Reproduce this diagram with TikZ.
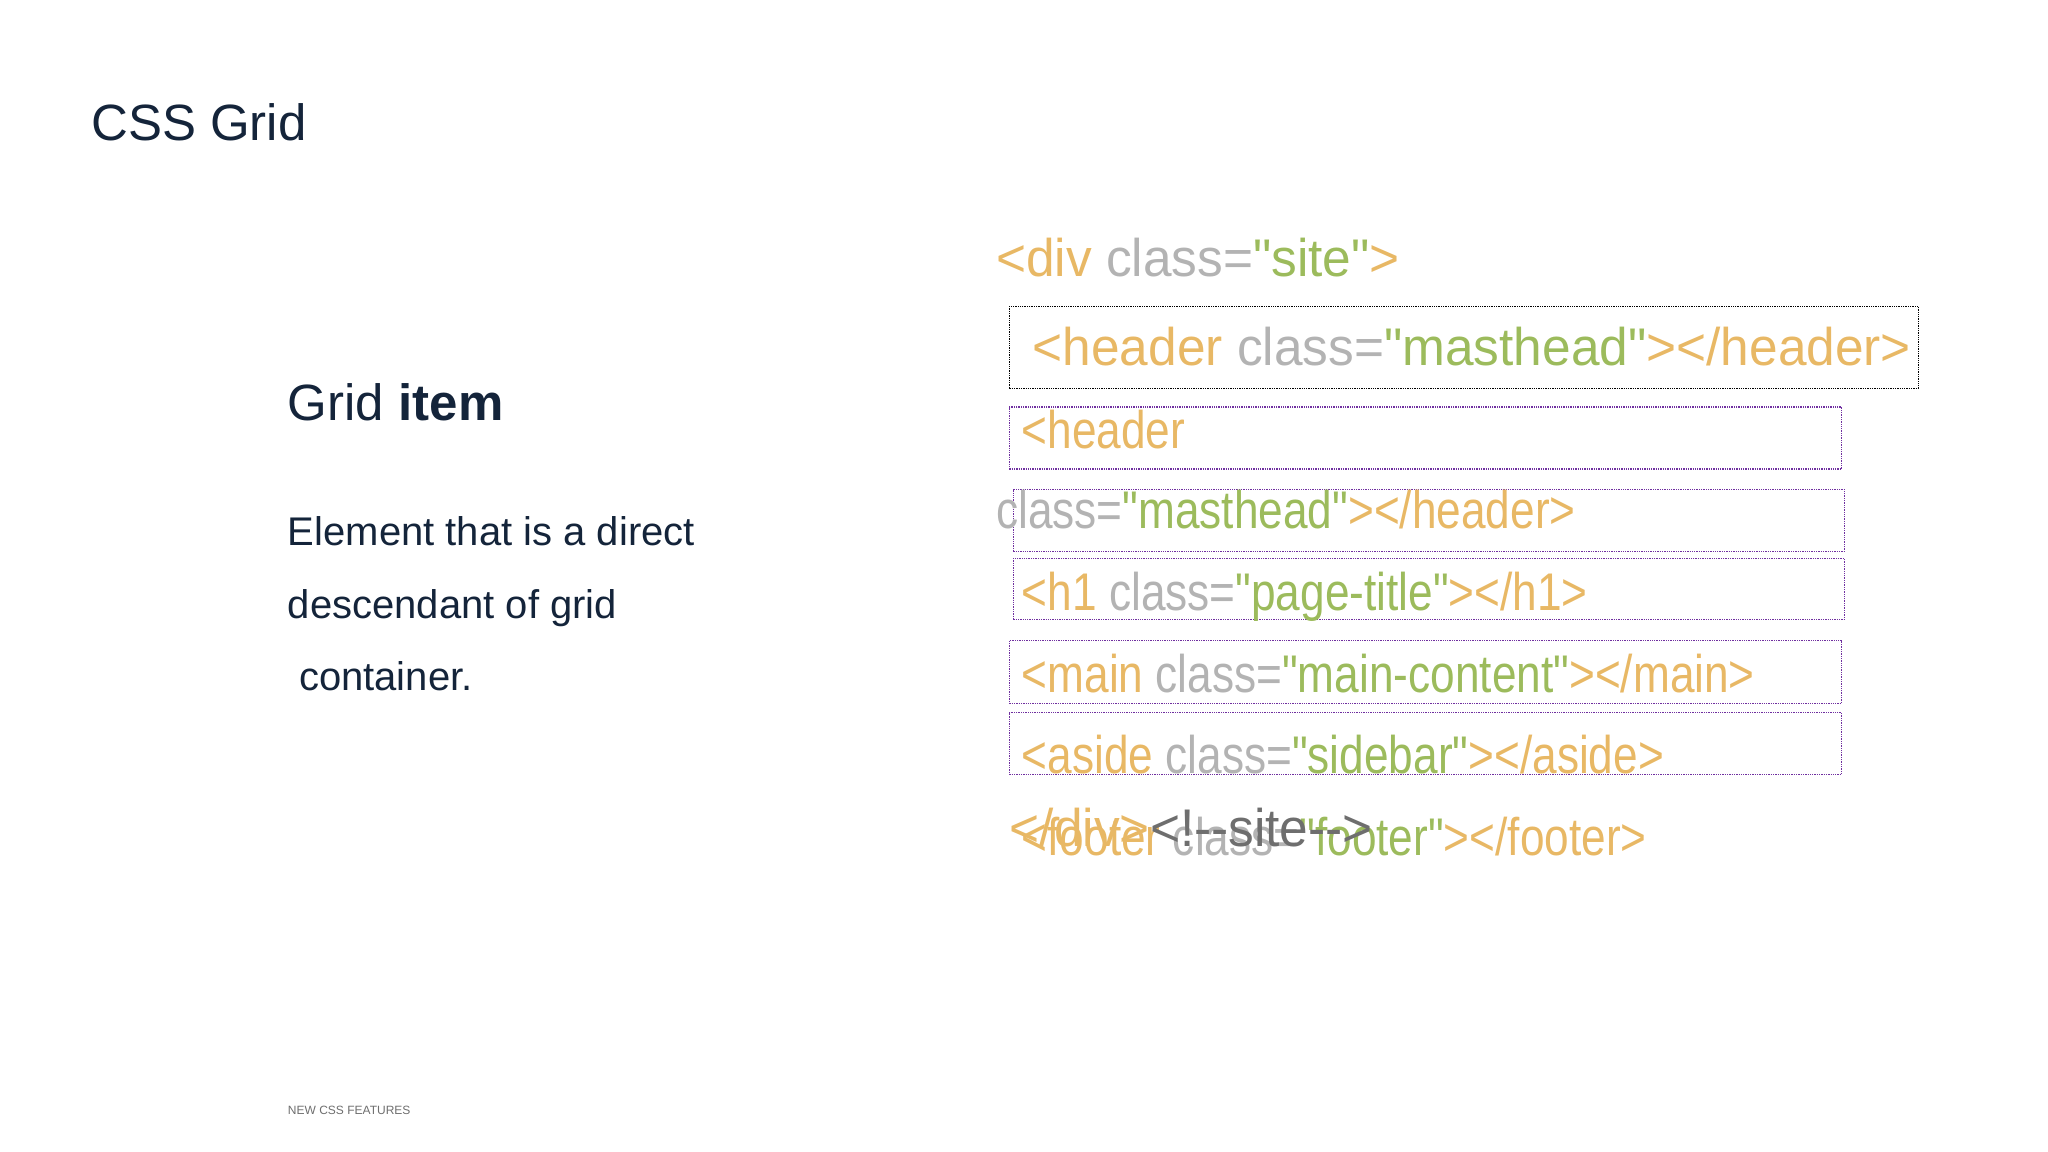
\documentclass[tikz,border=0pt]{standalone}
\usepackage{fontspec}
\setmainfont{Liberation Sans}
\newfontfamily\codefont{Liberation Sans}
\definecolor{navy}{HTML}{14243A}
\definecolor{tagc}{HTML}{E8B865}
\definecolor{attc}{HTML}{B3B3B3}
\definecolor{valc}{HTML}{9CBB5C}
\definecolor{cmtc}{HTML}{6E6E6E}
\definecolor{boxp}{HTML}{7030A0}
\newcommand{\tg}[1]{\textcolor{tagc}{#1}}
\newcommand{\at}[1]{\textcolor{attc}{#1}}
\newcommand{\vl}[1]{\textcolor{valc}{#1}}
\begin{document}
\begin{tikzpicture}[x=0.989pt,y=-0.989pt,
  code/.style={anchor=base west,inner sep=0,font=\codefont\fontsize{53}{60}\selectfont,xscale=0.97},
  codes/.style={code,xscale=0.86},
  box/.style={draw=boxp,densely dotted,line width=1.3pt,anchor=north west,inner sep=0},
  bbox/.style={draw=black,densely dotted,line width=1.3pt,anchor=north west,inner sep=0},
  body/.style={anchor=base west,inner sep=0,text=navy,font=\fontsize{40}{44}\selectfont}]
\useasboundingbox (0,0) rectangle (2070.8,1164.8);
\node[anchor=base west,inner sep=0,text=navy,font=\fontsize{51}{60}\selectfont] (title) at (92,142) {CSS Grid};
\node[anchor=base west,inner sep=0,text=navy,font=\fontsize{51}{60}\selectfont] (gi) at (291,425) {Grid \textbf{item}};
\node[body] (b1) at (291,552) {Element that is a direct};
\node[body] (b2) at (291,625) {descendant of grid};
\node[body] (b3) at (291,698) {\ container.};
\node[anchor=base west,inner sep=0,text=cmtc,font=\fontsize{12}{14}\selectfont] (ft) at (291,1127) {NEW CSS FEATURES};
% boxes
\node[bbox,minimum width=909pt,minimum height=82pt] (k1) at (1020,309) {};
\node[box,minimum width=832pt,minimum height=62pt] (k2) at (1020,411) {};
\node[box,minimum width=831pt,minimum height=62pt] (k3) at (1024,494) {};
\node[box,minimum width=831pt,minimum height=61pt] (k4) at (1024,564) {};
\node[box,minimum width=832pt,minimum height=63pt] (k5) at (1020,647) {};
\node[box,minimum width=832pt,minimum height=62pt] (k6) at (1020,720) {};
% code
\node[code] (c0) at (1007,280) {\tg{<div} \at{class=}\vl{"site"}\tg{>}};
\node[code] (c1) at (1044,370) {\tg{<header} \at{class=}\vl{"masthead"}\tg{></header>}};
\node[codes] (c2) at (1033,453) {\tg{<header}};
\node[codes] (c3) at (1007,534) {\at{class=}\vl{"masthead"}\tg{></header>}};
\node[codes] (c4) at (1033,617) {\tg{<h1} \at{class=}\vl{"page-title"}\tg{></h1>}};
\node[codes] (c5) at (1033,700) {\tg{<main} \at{class=}\vl{"main-content"}\tg{></main>}};
\node[codes] (c6) at (1033,782) {\tg{<aside} \at{class=}\vl{"sidebar"}\tg{></aside>}};
\node[codes] (c7) at (1033,865) {\tg{<footer} \at{class=}\vl{"footer"}\tg{></footer>}};
\node[code] (c8) at (1021,856) {\tg{</div>}\textcolor{cmtc}{<!-{}-site-{}->}};
\end{tikzpicture}
\end{document}
